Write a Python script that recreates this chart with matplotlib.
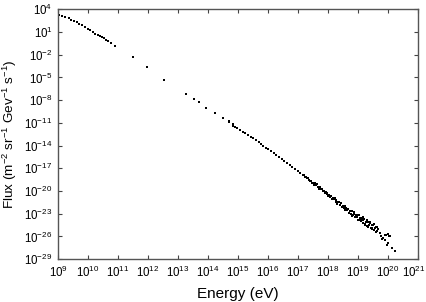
import matplotlib
matplotlib.use("Agg")
import matplotlib.pyplot as plt
import matplotlib.transforms as mtransforms
import numpy as np

plt.rcParams['font.family'] = ['Liberation Sans', 'DejaVu Sans']
plt.rcParams['mathtext.fontset'] = 'custom'
plt.rcParams['mathtext.rm'] = 'Liberation Sans'
plt.rcParams['mathtext.it'] = 'Liberation Sans:italic'
plt.rcParams['mathtext.bf'] = 'Liberation Sans:bold'

# log10(Energy / eV) and log10(Flux)
low_logE = [9.02, 9.13, 9.24, 9.36, 9.44, 9.53, 9.62, 9.71, 9.79, 9.89, 9.99,
            10.07, 10.16, 10.24, 10.33, 10.40, 10.47, 10.53, 10.60, 10.68, 10.76,
            10.91, 11.49, 11.98, 12.54, 13.26, 13.52, 13.70, 13.94, 14.24, 14.49,
            14.69, 14.71, 14.82, 14.82, 14.90, 14.98, 15.07, 15.16, 15.24, 15.33,
            15.42, 15.51, 15.60, 15.69, 15.78, 15.84, 15.93, 16.01,
            16.10, 16.19, 16.28, 16.37, 16.46, 16.54, 16.63, 16.72, 16.81, 16.90,
            16.99, 17.08, 17.17]
low_logF = [3.25, 3.11, 2.94, 2.81, 2.59, 2.41, 2.28, 2.10, 1.89, 1.70, 1.44,
            1.22, 1.00, 0.74, 0.60, 0.47, 0.30, 0.17, -0.02, -0.23, -0.49,
            -0.85, -2.34, -3.66, -5.34, -7.15, -7.89, -8.29, -9.00, -9.66, -10.37,
            -10.76, -10.93, -11.12, -11.38, -11.55, -11.73, -11.95, -12.18, -12.39, -12.61,
            -12.84, -13.05, -13.27, -13.50, -13.80, -14.03, -14.29, -14.50,
            -14.77, -15.02, -15.27, -15.53, -15.78, -16.03, -16.29, -16.55, -16.80, -17.07,
            -17.32, -17.57, -17.83]

band_logE = [17.20, 17.23, 17.26, 17.29, 17.32, 17.35, 17.38, 17.41, 17.44, 17.47,
             17.50, 17.53, 17.56, 17.59, 17.62, 17.65, 17.68, 17.71, 17.74, 17.77,
             17.80, 17.83, 17.86, 17.89, 17.92, 17.95, 17.98, 18.01, 18.04, 18.07,
             18.10, 18.13, 18.16, 18.19, 18.22, 18.25, 18.28, 18.31, 18.34, 18.37,
             18.40, 18.43, 18.46, 18.49, 18.52, 18.55, 18.58, 18.61, 18.64, 18.67,
             18.70, 18.73, 18.76, 18.79, 18.82, 18.85, 18.88, 18.91, 18.94, 18.97,
             19.00, 19.03, 19.06, 19.09, 19.12, 19.15, 19.18, 19.21, 19.24, 19.27,
             19.30, 19.33, 19.36, 19.39, 19.42, 19.45, 19.48, 19.51, 19.54, 19.57,
             19.60, 19.63, 19.66,
             18.805, 18.865, 18.925, 18.985, 19.045, 19.105, 19.165, 19.225, 19.285,
             19.345, 19.405, 19.465, 19.525, 19.585, 19.645]
band_logF = [-17.95, -18.20, -18.11, -18.33, -18.27, -18.59, -18.50, -18.73, -18.62, -18.93,
             -18.88, -19.16, -19.00, -19.25, -19.13, -19.49, -19.41, -19.73, -19.52, -19.79,
             -19.68, -20.05, -19.96, -20.31, -20.11, -20.38, -20.22, -20.64, -20.54, -20.78,
             -20.63, -21.07, -20.89, -21.12, -20.96, -21.41, -21.25, -21.67, -21.49, -21.46,
             -21.85, -21.63, -22.12, -21.94, -22.21, -21.96, -22.52, -22.28, -22.54, -22.39,
             -22.93, -22.68, -23.01, -22.69, -23.22, -23.04, -22.87, -23.50, -23.18, -23.50,
             -23.18, -23.86, -23.54, -23.91, -23.54, -24.17, -23.89, -23.72, -24.35, -24.03,
             -24.61, -24.13, -24.51, -24.19, -24.86, -24.54, -24.91, -24.54, -25.21, -24.89,
             -24.71, -25.34, -25.01,
             -23.33, -22.78, -23.24, -23.84, -23.20, -23.80, -23.45, -24.46, -23.82,
             -24.82, -24.07, -25.07, -24.37, -25.42, -24.72]

tail_logE = [19.72, 19.77, 19.80, 19.83, 19.90, 19.93, 19.99, 20.04, 20.07,
             19.90, 19.96, 20.00, 20.12, 20.23]
tail_logF = [-25.56, -25.96, -26.36, -26.22, -25.83, -25.76, -25.73, -25.92, -25.96,
             -26.49, -27.15, -26.88, -27.58, -27.94]

xtick_exp = list(range(9, 22))
ytick_exp = [4, 1, -2, -5, -8, -11, -14, -17, -20, -23, -26, -29]

logE = np.array(low_logE + band_logE + tail_logE)
logF = np.array(low_logF + band_logF + tail_logF)

fig = plt.figure(figsize=(4.27, 3.02), dpi=100)
ax = fig.add_axes([0.136, 0.142, 0.843, 0.827])

ax.plot(10.0 ** logE, 10.0 ** logF, linestyle='none', marker='s',
        markersize=1.7, markeredgewidth=0, color='black')

ax.set_xscale('log')
ax.set_yscale('log')
ax.set_xlim(1e9, 1e21)
ax.set_ylim(1e-29, 1e4)

ax.set_xticks([10.0 ** e for e in xtick_exp])
ax.set_xticklabels([r'$10^{%d}$' % e for e in xtick_exp])
ax.set_yticks([10.0 ** e for e in ytick_exp])
ax.set_yticklabels([r'$10^{%d}$' % e for e in ytick_exp])
ax.minorticks_off()

ax.tick_params(direction='in', length=3, width=0.8, top=True, right=True,
               labelsize=8.3, colors='#444444', labelcolor='black', pad=4)
for sp in ax.spines.values():
    sp.set_color('#555555')
    sp.set_linewidth(1.0)

# nudge the last x tick label so it stays inside the canvas
last = ax.get_xticklabels()[-1]
last.set_transform(last.get_transform() +
                   mtransforms.ScaledTranslation(-3 / 72, 0, fig.dpi_scale_trans))

ax.set_xlabel('Energy (eV)', fontsize=11, labelpad=5)
ax.set_ylabel(r'Flux (m$^{-2}$ sr$^{-1}$ Gev$^{-1}$ s$^{-1}$)', fontsize=9.7)
ax.yaxis.set_label_coords(-0.108, 0.5)

fig.savefig('out.png', dpi=100)
